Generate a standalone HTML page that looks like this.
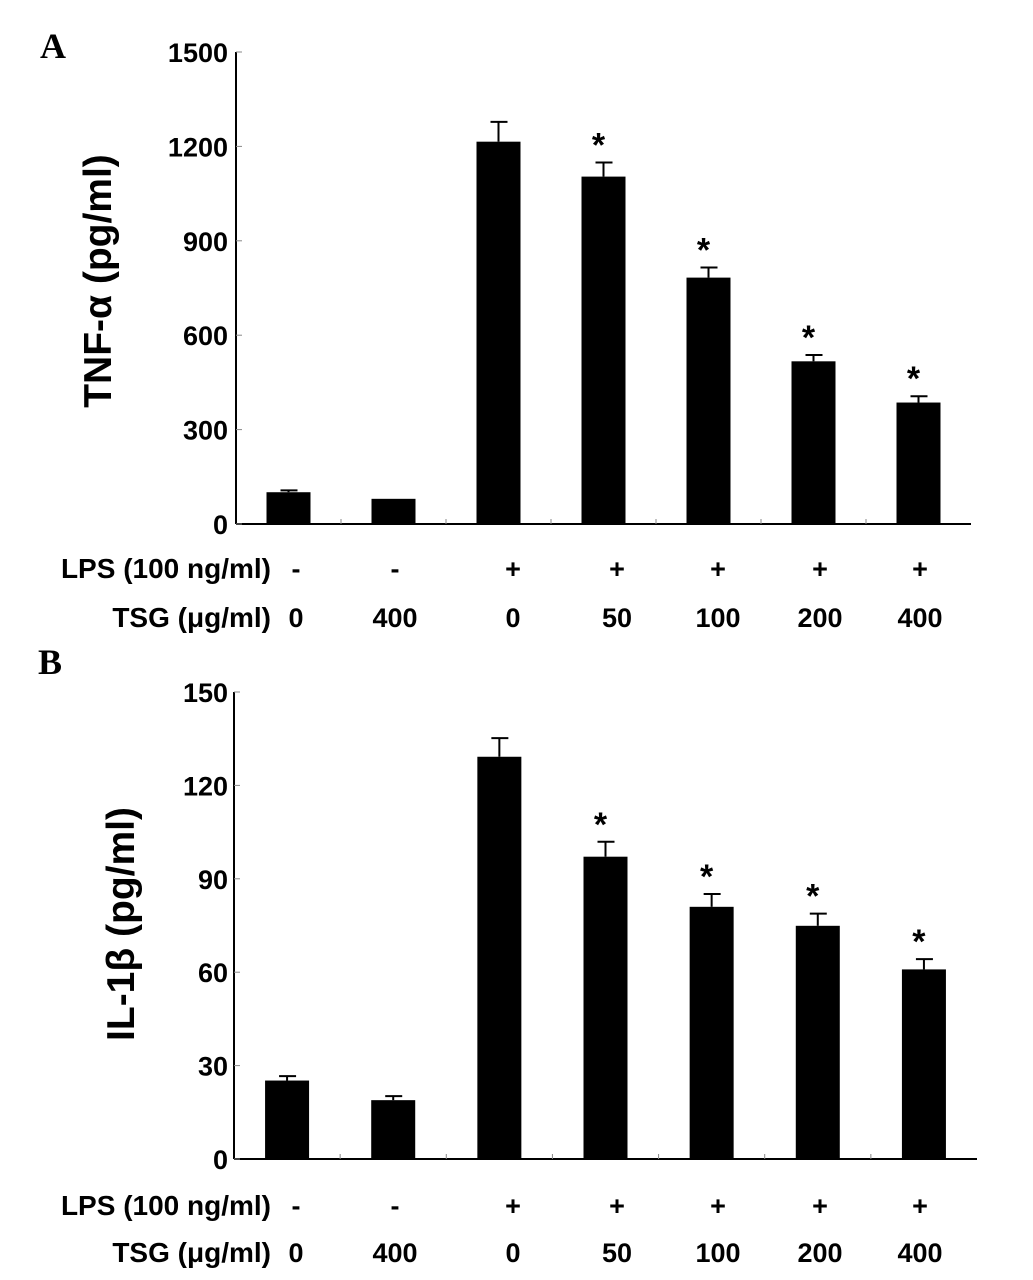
<!DOCTYPE html>
<html><head><meta charset="utf-8"><style>
html,body{margin:0;padding:0;background:#fff;}
svg{display:block;font-family:"Liberation Sans",Arial,sans-serif;}
</style></head><body>
<svg id="fig" width="1033" height="1280" viewBox="0 0 1033 1280" xmlns="http://www.w3.org/2000/svg"></svg>
<script>
const categories = ["LPS- TSG0","LPS- TSG400","LPS+ TSG0","LPS+ TSG50","LPS+ TSG100","LPS+ TSG200","LPS+ TSG400"];
const lpsLabels = ["-","-","+","+","+","+","+"];
const tsgLabels = ["0","400","0","50","100","200","400"];
const tnfValues = [101,80,1215,1104,783,517,386];
const tnfErrors = [6,0,63,45,32,20,20];
const tnfSig = [false,false,false,true,true,true,true];
const tnfTicks = [0,300,600,900,1200,1500];
const il1Values = [25.2,18.9,129.2,97.1,81.0,74.9,60.9];
const il1Errors = [1.4,1.3,6.0,4.8,4.1,3.9,3.3];
const il1Sig = [false,false,false,true,true,true,true];
const il1Ticks = [0,30,60,90,120,150];

const NS="http://www.w3.org/2000/svg";
const svg=document.getElementById('fig');
function mk(tag,attrs,parent){const e=document.createElementNS(NS,tag);for(const k in attrs)e.setAttribute(k,attrs[k]);(parent||svg).appendChild(e);return e;}
const labelX=[296,395,513,617,718,820,920];

function panel(p){
  const g=mk('g',{});
  
  
  const x0=p.x0,x1=p.x1,y0=p.y0,yTop=p.yTop,max=p.ticks[p.ticks.length-1];
  const ys=v=>y0-(v/max)*(y0-yTop);
  const cw=(x1-x0)/categories.length;
  const xc=i=>x0+cw*(i+0.5);
  const letter=mk('text',{x:p.lx,y:p.ly,'font-family':'"Liberation Serif",serif','font-weight':'bold','font-size':36},g);
  letter.textContent=p.letter;
  
  
  const ya=mk('line',{x1:x0,y1:yTop,x2:x0,y2:y0,stroke:'#000','stroke-width':2},g);
  
  
  const xa=mk('line',{x1:x0,y1:y0,x2:x1,y2:y0,stroke:'#000','stroke-width':2},g);
  
  
  p.ticks.forEach(t=>{
    const y=ys(t);
    mk('line',{x1:x0,y1:y,x2:x0+6,y2:y,stroke:'#888','stroke-width':1},g);
    const tx=mk('text',{x:228,y:y+10,'text-anchor':'end','font-weight':'bold','font-size':27},g);
    tx.textContent=t;
    
    
  });
  for(let i=1;i<categories.length;i++){mk('line',{x1:x0+cw*i,y1:y0,x2:x0+cw*i,y2:y0-5,stroke:'#888','stroke-width':1},g);}
  const yt=mk('text',{x:0,y:0,transform:`translate(${p.titleX},${p.titleY}) rotate(-90)`,'text-anchor':'middle','font-weight':'bold','font-size':39},g);
  yt.textContent=p.title;
  
  
  const bw=44;
  p.values.forEach((v,i)=>{
    const cx=xc(i),top=ys(v);
    const b=mk('rect',{x:cx-bw/2,y:top,width:bw,height:y0-top,fill:'#000'},g);
    
    
    const et=ys(v+p.errors[i]);
    if(p.errors[i]>0){
      mk('line',{x1:cx,y1:top,x2:cx,y2:et,stroke:'#000','stroke-width':2},g);
      const eb=mk('line',{x1:cx-8,y1:et,x2:cx+9,y2:et,stroke:'#000','stroke-width':2},g);
      
      
    }
    if(p.sig[i]){
      const s=mk('text',{x:cx-5,y:et-6,'text-anchor':'middle','font-weight':'bold','font-size':34},g);
      s.textContent='*';
      
      
    }
  });
  const l1=mk('text',{x:271,y:p.row1+10,'text-anchor':'end','font-weight':'bold','font-size':28},g);
  l1.textContent='LPS (100 ng/ml)';
  
  
  const l2=mk('text',{x:271,y:p.row2+10,'text-anchor':'end','font-weight':'bold','font-size':28},g);
  l2.textContent='TSG (\u03BCg/ml)';
  
  
  categories.forEach((c,i)=>{
    const a=mk('text',{x:labelX[i],y:p.row1+10,'text-anchor':'middle','font-weight':'bold','font-size':27},g);
    a.textContent=lpsLabels[i];
    
    
    const b=mk('text',{x:labelX[i],y:p.row2+10,'text-anchor':'middle','font-weight':'bold','font-size':27},g);
    b.textContent=tsgLabels[i];
    
    
  });
}
panel({name:'panel-a-tnf',letter:'A',lx:40,ly:58,x0:236,x1:971,y0:524,yTop:52,ticks:tnfTicks,values:tnfValues,errors:tnfErrors,sig:tnfSig,title:'TNF-\u03B1 (pg/ml)',titleX:111,titleY:281,row1:568,row2:617});
panel({name:'panel-b-il1b',letter:'B',lx:38,ly:674,x0:234,x1:977,y0:1159,yTop:692,ticks:il1Ticks,values:il1Values,errors:il1Errors,sig:il1Sig,title:'IL-1\u03B2 (pg/ml)',titleX:134,titleY:924,row1:1205,row2:1252});
</script>
</body></html>
